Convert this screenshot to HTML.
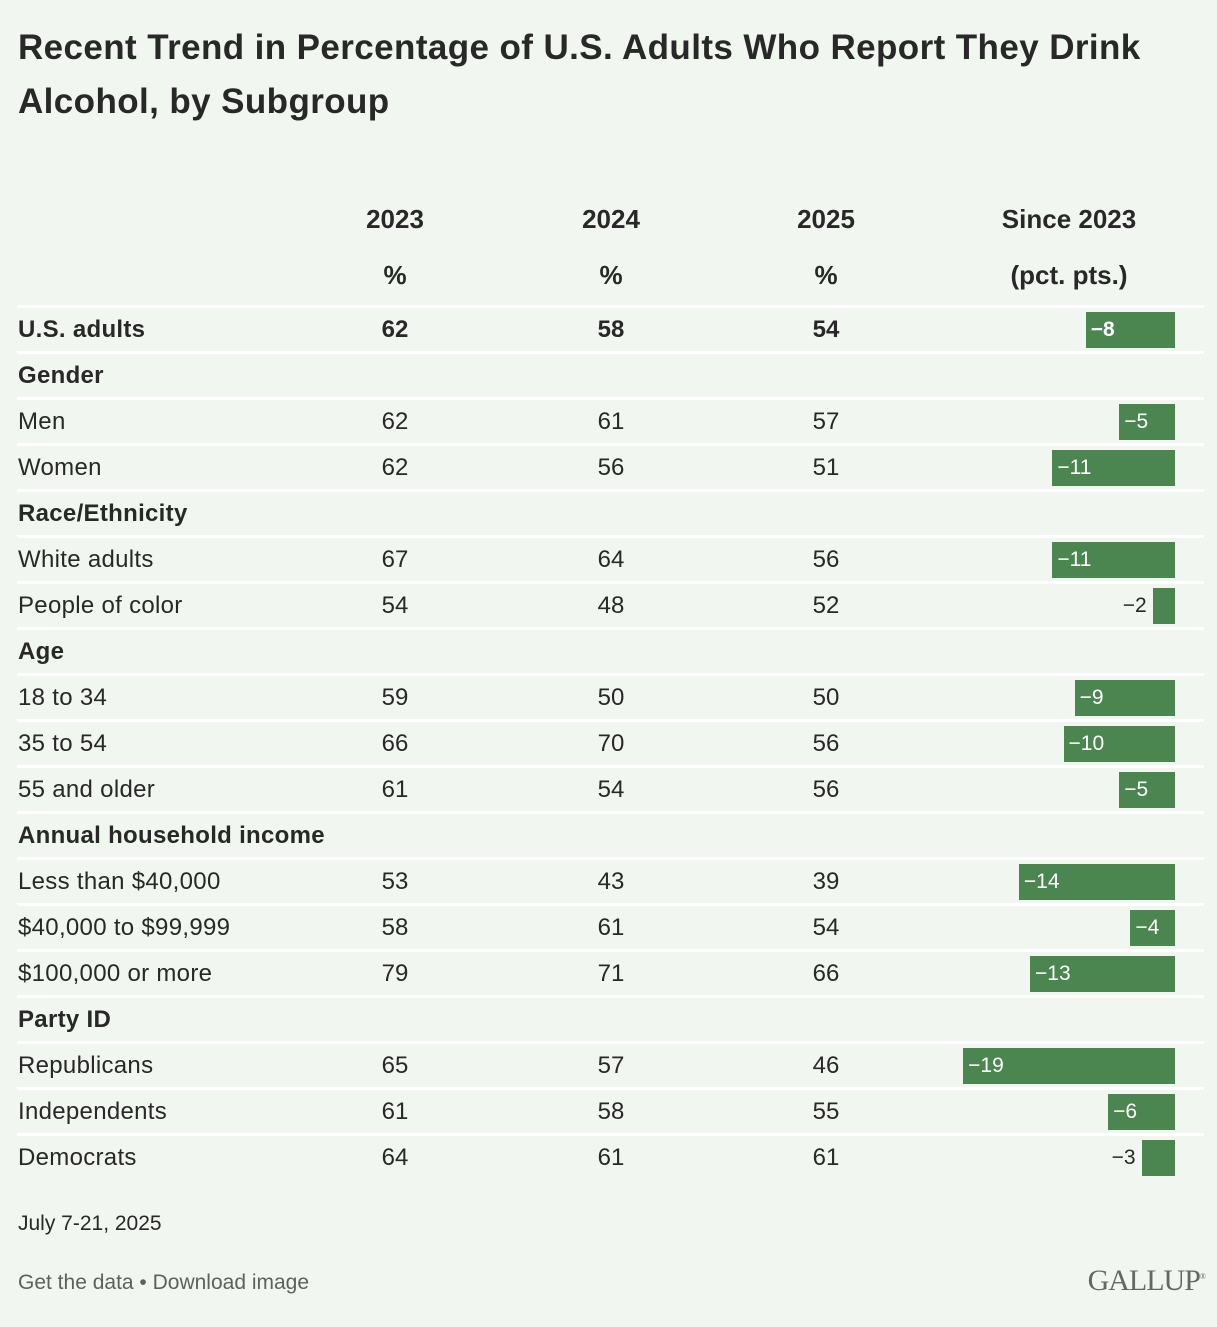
<!DOCTYPE html>
<html><head><meta charset="utf-8">
<style>
body{margin:0;width:1217px;height:1327px;background:#f2f6f0;font-family:"Liberation Sans",sans-serif;color:#282828;position:relative;overflow:hidden}
.t{position:absolute;white-space:nowrap}
h1{position:absolute;left:18px;top:21px;margin:0;font-size:35px;line-height:54px;font-weight:bold;width:1190px;letter-spacing:0.4px}
.hd{font-weight:bold;font-size:26px;transform:translateX(-50%)}
.row{position:absolute;left:0;width:1217px;height:46px}
.sep{position:absolute;left:17px;width:1187px;height:3px;background:#fff}
.lab{position:absolute;left:18px;font-size:24px;line-height:46px;letter-spacing:0.3px}
.num{position:absolute;font-size:24px;line-height:46px;transform:translateX(-50%)}
.bar{position:absolute;height:36px;top:5px;background:#4b8550}
.bl{position:absolute;font-size:21px;line-height:46px;color:#fff}
</style></head><body>
<h1>Recent Trend in Percentage of U.S. Adults Who Report They Drink Alcohol, by Subgroup</h1>
<div class="t hd" style="left:395px;top:204px">2023</div>
<div class="t hd" style="left:611px;top:204px">2024</div>
<div class="t hd" style="left:826px;top:204px">2025</div>
<div class="t hd" style="left:1069px;top:204px">Since 2023</div>
<div class="t hd" style="left:395px;top:260px">%</div>
<div class="t hd" style="left:611px;top:260px">%</div>
<div class="t hd" style="left:826px;top:260px">%</div>
<div class="t hd" style="left:1069px;top:260px">(pct. pts.)</div>
<div id="tbl"></div>
<div class="t" style="left:18px;top:1212px;font-size:21px">July 7-21, 2025</div>
<div class="t" style="left:18px;top:1271px;font-size:21px;color:#5f5f5f">Get the data • Download image</div>
<div class="t" style="right:12px;top:1264px;font-size:30px;color:#666;font-family:'Liberation Serif',serif;letter-spacing:-1px">GALLUP<sup style="font-size:8px">®</sup></div>
<script>
const labels=["U.S. adults","Gender","Men","Women","Race/Ethnicity","White adults","People of color","Age","18 to 34","35 to 54","55 and older","Annual household income","Less than $40,000","$40,000 to $99,999","$100,000 or more","Party ID","Republicans","Independents","Democrats"];
const isHeader=[1,1,0,0,1,0,0,1,0,0,0,1,0,0,0,1,0,0,0];
const v2023=[62,null,62,62,null,67,54,null,59,66,61,null,53,58,79,null,65,61,64];
const v2024=[58,null,61,56,null,64,48,null,50,70,54,null,43,61,71,null,57,58,61];
const v2025=[54,null,57,51,null,56,52,null,50,56,56,null,39,54,66,null,46,55,61];
const change=[-8,null,-5,-11,null,-11,-2,null,-9,-10,-5,null,-14,-4,-13,null,-19,-6,-3];
const tbl=document.getElementById('tbl');
const top0=305,pitch=46,barRight=1175,ppt=11.15;
const cols=[395,611,826];
labels.forEach((l,i)=>{
  const y=top0+i*pitch;
  const sep=document.createElement('div');sep.className='sep';sep.style.top=y+'px';
  
  
  tbl.appendChild(sep);
  const r=document.createElement('div');r.className='row';r.style.top=(y+2)+'px';
  
  
  const bold=isHeader[i]||i===0;
  const lb=document.createElement('div');lb.className='lab';lb.textContent=l;
  if(bold)lb.style.fontWeight='bold';
  
  
  r.appendChild(lb);
  [v2023,v2024,v2025].forEach((arr,k)=>{
    if(arr[i]==null)return;
    const n=document.createElement('div');n.className='num';n.style.left=cols[k]+'px';n.textContent=arr[i];
    if(bold)n.style.fontWeight='bold';
    
    
    r.appendChild(n);
  });
  if(change[i]!=null){
    const w=Math.abs(change[i])*ppt;
    const b=document.createElement('div');b.className='bar';b.style.left=(barRight-w)+'px';b.style.width=w+'px';
    
    
    r.appendChild(b);
    const t=document.createElement('div');t.className='bl';t.textContent='\u2212'+Math.abs(change[i]);
    if(i===0)t.style.fontWeight='bold';
    if(w<38){t.style.color='#282828';t.style.right=(1217-(barRight-w)+6)+'px';}
    else t.style.left=(barRight-w+5)+'px';
    
    
    r.appendChild(t);
  }
  tbl.appendChild(r);
});
</script>
</body></html>
